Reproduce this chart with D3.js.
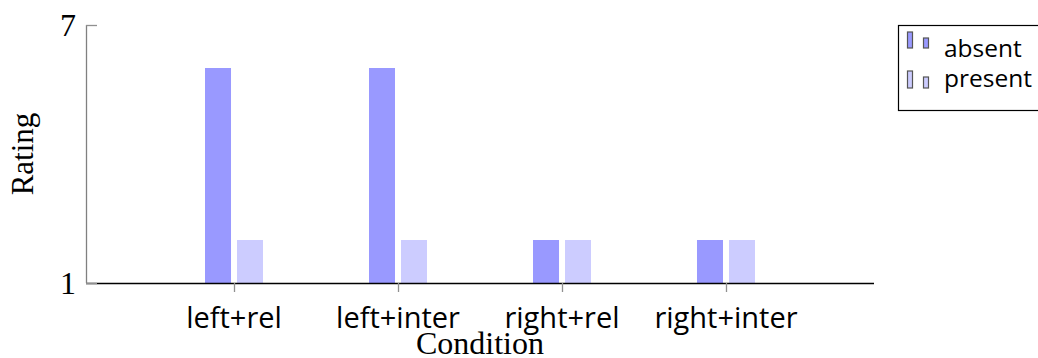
<!DOCTYPE html>
<html>
<head>
<meta charset="utf-8">
<script src="https://cdn.jsdelivr.net/npm/d3@7"></script>
<style>
  html, body { margin: 0; padding: 0; background: #fff; }
  svg { display: block; }
</style>
</head>
<body>
<svg id="chart" width="1038" height="358"></svg>
<script>
const categories = ["left+rel", "left+inter", "right+rel", "right+inter"];
const seriesNames = ["absent", "present"];
const absentValues = [6, 6, 2, 2];
const presentValues = [2, 2, 2, 2];
const yTickValues = [1, 7];
const xTitle = "Condition";
const yTitle = "Rating";

(function () {
const seriesValues = [absentValues, presentValues];
const colors = ["#9999ff", "#ccccff"];

const svg = d3.select("#chart");
const serif = "'Liberation Serif', 'DejaVu Serif', serif";
const sans = "'Open Sans', 'DejaVu Sans', sans-serif";

const pl = 86, pr = 874, pt = 25, pb = 283;

const x = d3.scalePoint().domain(categories).range([pl, pr]).padding(0.9025);
const xs = d3.scaleBand().domain(seriesNames).range([-29, 29]).paddingInner(0.1875).paddingOuter(0);
const y = d3.scaleLinear().domain([1, 7]).range([pb, pt]);

// bars
seriesNames.forEach((s, si) => {
  svg.append("g").selectAll("rect")
    .data(categories.map((c, i) => ({ c, v: seriesValues[si][i] })))
    .join("rect")
    .attr("x", d => x(d.c) + xs(s))
    .attr("width", xs.bandwidth())
    .attr("y", d => y(d.v))
    .attr("height", d => y(1) - y(d.v))
    .attr("fill", colors[si]);
});

// x axis line
svg.append("line").attr("x1", pl).attr("x2", pr).attr("y1", pb + 0.5).attr("y2", pb + 0.5)
  .attr("stroke", "#000").attr("stroke-width", 1.3);
// y axis line
svg.append("line").attr("x1", pl + 0.5).attr("x2", pl + 0.5).attr("y1", pt).attr("y2", pb)
  .attr("stroke", "#808080").attr("stroke-width", 1.3);

// y ticks
const yAxis = d3.axisRight(y).tickValues(yTickValues).tickSize(11).tickFormat("");
const yg = svg.append("g").attr("transform", `translate(${pl},0)`).call(yAxis);
yg.select(".domain").remove();
yg.selectAll(".tick line").attr("stroke", "#909090").attr("stroke-width", 1.3);
svg.append("g").selectAll("text").data(yTickValues).join("text")
  .attr("x", 76).attr("y", d => y(d) + 11)
  .attr("text-anchor", "end")
  .attr("font-family", serif).attr("font-size", 32).attr("fill", "#000")
  .text(d => d);

// x ticks
const xAxis = d3.axisBottom(x).tickSize(9).tickFormat("");
const xg = svg.append("g").attr("transform", `translate(0,${pb})`).call(xAxis);
xg.select(".domain").remove();
xg.selectAll(".tick line").attr("stroke", "#909090").attr("stroke-width", 1.3);
svg.append("g").selectAll("text").data(categories).join("text")
  .attr("x", d => x(d)).attr("y", 328)
  .attr("text-anchor", "middle")
  .attr("font-family", sans).attr("font-size", 29).attr("fill", "#000")
  .text(d => d);

// axis titles
svg.append("text").attr("x", (pl + pr) / 2).attr("y", 354)
  .attr("text-anchor", "middle").attr("font-family", serif).attr("font-size", 32)
  .text(xTitle);
svg.append("text").attr("transform", `translate(33,${(pt + pb) / 2}) rotate(-90)`)
  .attr("text-anchor", "middle").attr("font-family", serif).attr("font-size", 31)
  .text(yTitle);

// legend
const lg = svg.append("g");
lg.append("rect").attr("x", 898.5).attr("y", 25.5).attr("width", 145).attr("height", 85)
  .attr("fill", "#fff").attr("stroke", "#000").attr("stroke-width", 1.2);
const iconBase = [48, 88];
const textBase = [57, 87];
seriesNames.forEach((s, i) => {
  const base = iconBase[i];
  lg.append("rect").attr("x", 907.5).attr("y", base - 16 - i).attr("width", 5).attr("height", 16 + i)
    .attr("fill", colors[i]).attr("stroke", "#555").attr("stroke-width", 1.2);
  lg.append("rect").attr("x", 923.5).attr("y", base - 10 - i).attr("width", 5).attr("height", 10 + i)
    .attr("fill", colors[i]).attr("stroke", "#555").attr("stroke-width", 1.2);
  lg.append("text").attr("x", 944).attr("y", textBase[i])
    .attr("font-family", sans).attr("font-size", 24.5).attr("fill", "#000").text(s);
});
})();
</script>
</body>
</html>
